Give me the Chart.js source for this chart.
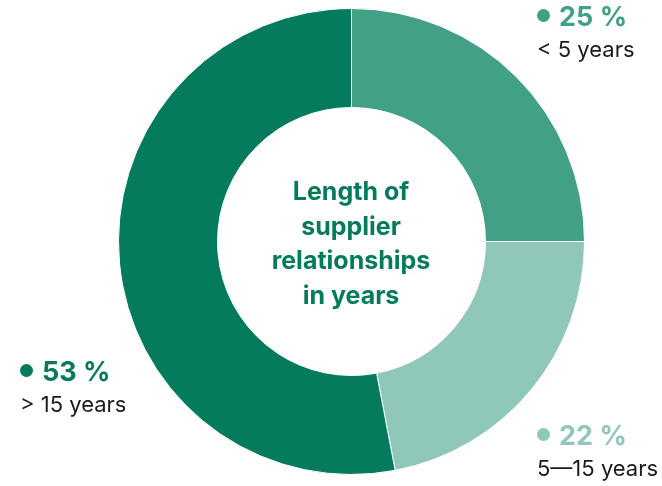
<!DOCTYPE html>
<html>
<head>
<meta charset="utf-8">
<script src="https://cdn.jsdelivr.net/npm/chart.js@4"></script>
<style>
  html, body { margin: 0; padding: 0; background: #fff; }
  #wrap { position: relative; width: 662px; height: 486px; font-family: Inter, "Noto Sans", sans-serif; }
  canvas { position: absolute; left: 0; top: 0; }
  .lab { position: absolute; white-space: nowrap; }
  .pct { font-weight: 700; font-size: 27px; line-height: 30px; }
  .pct .dot { display: inline-block; width: 13px; height: 13px; border-radius: 50%; margin-right: 9px; vertical-align: 4px; }
  .cat { font-size: 22px; line-height: 28px; margin-top: 3px; color: #1b1b1b; }
  #center { position: absolute; left: 201px; width: 300px; top: 174px; text-align: center;
    font-weight: 700; font-size: 25px; line-height: 34.7px; color: #047b5c; }
</style>
</head>
<body>
<div id="wrap">
  <canvas id="donut" width="662" height="486"></canvas>
  <div id="center">Length of<br>supplier<br>relationships<br>in years</div>
</div>
<script>
const categories = ["< 5 years", "5\u201415 years", "> 15 years"];
const shares = [25, 22, 53];
const colors = ["#42a087", "#8fc7b8", "#047b5c"];

// where each label block sits (left, top)
const labelPos = [[537, 2], [537, 421], [20, 357]];

const wrap = document.getElementById('wrap');
categories.forEach(function(cat, i) {
    const d = document.createElement('div');
    d.className = 'lab';
    d.style.left = labelPos[i][0] + 'px';
    d.style.top = labelPos[i][1] + 'px';
    d.innerHTML = '<div class="pct" style="color:' + colors[i] + '"><span class="dot" style="background:' + colors[i] + '"></span>' +
        shares[i] + ' %</div><div class="cat"></div>';
    d.querySelector('.cat').textContent = cat;
    wrap.appendChild(d);
});

const donut = new Chart(document.getElementById("donut"), {
    type: 'doughnut',
    data: {
        labels: categories,
        datasets: [
            {
                data: shares,
                backgroundColor: colors,
                borderColor: "#ffffff",
                borderWidth: 1
            }
        ]
    },
    options: {
        responsive: false,
        animation: false,
        cutout: '57.5%',
        layout: { padding: { left: 118, right: 77, top: 8, bottom: 11 } },
        plugins: {
            legend: { display: false },
            tooltip: { enabled: false }
        }
    }
});
</script>
</body>
</html>
